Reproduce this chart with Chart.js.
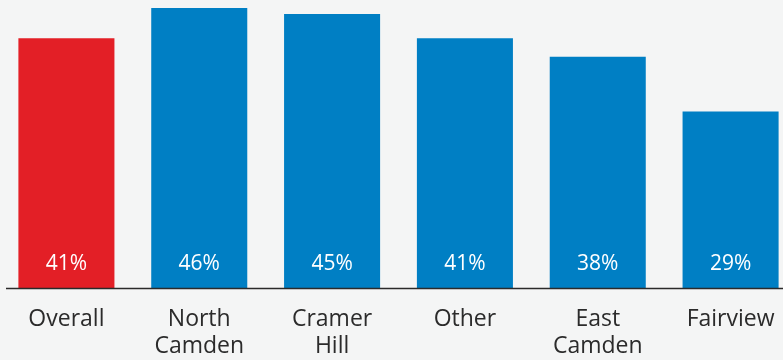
<!DOCTYPE html>
<html>
<head>
<meta charset="utf-8">
<script src="https://cdn.jsdelivr.net/npm/chart.js@4"></script>
<style>
  html, body { margin: 0; padding: 0; background: #f4f5f5; overflow: hidden; }
  #wrap { width: 797px; height: 360px; }
</style>
</head>
<body>
<div id="wrap"><canvas id="c" width="797" height="360"></canvas></div>
<script>
// Share of respondents by area
const categories = [
  "Overall",
  ["North", "Camden"],
  ["Cramer", "Hill"],
  "Other",
  ["East", "Camden"],
  "Fairview"
];
const values = [41, 46, 45, 41, 38, 29];
const valueLabels = ["41%", "46%", "45%", "41%", "38%", "29%"];
const barColors = ["#e31f26", "#007fc4", "#007fc4", "#007fc4", "#007fc4", "#007fc4"];

const FONT = "'Open Sans', sans-serif";

// Writes each value inside its bar, near the baseline
const valueLabelPlugin = {
  id: 'valueLabels',
  afterDatasetsDraw(chart) {
    const ctx = chart.ctx;
    const meta = chart.getDatasetMeta(0);
    const base = chart.scales.y.getPixelForValue(0);
    ctx.save();
    ctx.fillStyle = '#ffffff';
    ctx.font = '21px ' + FONT;
    ctx.textAlign = 'center';
    ctx.textBaseline = 'middle';
    meta.data.forEach((bar, i) => {
      ctx.fillText(valueLabels[i], bar.x, base - 24);
    });
    ctx.restore();
  }
};

// Baseline rule under the bars
const baselinePlugin = {
  id: 'baseline',
  afterDatasetsDraw(chart) {
    const ctx = chart.ctx;
    const a = chart.chartArea;
    ctx.save();
    ctx.strokeStyle = '#2a2a2a';
    ctx.lineWidth = 1.5;
    ctx.beginPath();
    ctx.moveTo(a.left + 6, a.bottom + 0.5);
    ctx.lineTo(a.right, a.bottom + 0.5);
    ctx.stroke();
    ctx.restore();
  }
};

new Chart(document.getElementById('c'), {
  type: 'bar',
  data: {
    labels: categories,
    datasets: [{
      data: values,
      backgroundColor: barColors,
      borderWidth: 0,
      categoryPercentage: 1,
      barPercentage: 0.723
    }]
  },
  options: {
    responsive: false,
    animation: false,
    layout: { padding: 0 },
    plugins: {
      legend: { display: false },
      tooltip: { enabled: false }
    },
    scales: {
      x: {
        grid: { display: false, drawTicks: false },
        border: { display: false },
        ticks: {
          color: '#2b2b2b',
          font: { family: FONT, size: 23, lineHeight: 1.17 },
          padding: 18,
          maxRotation: 0,
          autoSkip: false
        },
        afterFit(scale) { scale.height = 72; }
      },
      y: {
        display: false,
        min: 0,
        max: 47.3
      }
    }
  },
  plugins: [valueLabelPlugin, baselinePlugin]
});
</script>
</body>
</html>
